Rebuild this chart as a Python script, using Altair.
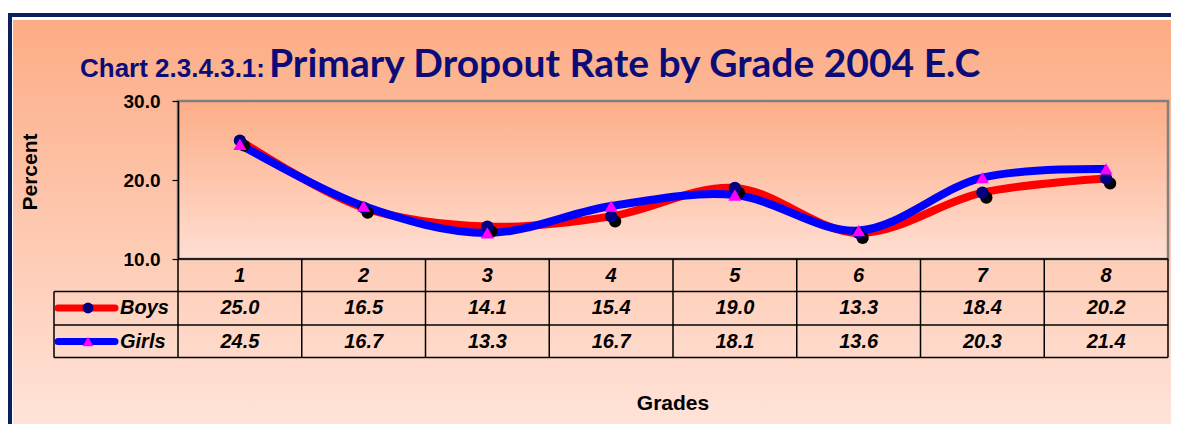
import altair as alt
import pandas as pd

# ---- data ----
grades = [1, 2, 3, 4, 5, 6, 7, 8]
boys = [25.0, 16.5, 14.1, 15.4, 19.0, 13.3, 18.4, 20.2]
girls = [24.5, 16.7, 13.3, 16.7, 18.1, 13.6, 20.3, 21.4]
series = ["Boys", "Girls"]
y_ticks = [10, 20, 30]
title_prefix = "Chart 2.3.4.3.1:"
title_main = "Primary Dropout Rate by Grade 2004 E.C"
y_title = "Percent"
x_title = "Grades"

W, H = 990, 158
ARIAL = "Liberation Sans"
NAVY_T = "#0C0C78"

boys_df = pd.DataFrame({"grade": grades, "value": boys})
girls_df = pd.DataFrame({"grade": grades, "value": girls})
head_df = pd.DataFrame({"grade": grades})
bound_df = pd.DataFrame({"b": [g - 0.5 for g in grades] + [grades[-1] + 0.5]})
one = alt.Data(values=[{"k": 1}])

xs = alt.Scale(domain=[0.5, 8.5], nice=False, zero=False)
ys = alt.Scale(domain=[10, 30], nice=False, zero=False)
X = alt.X("grade:Q", scale=xs, axis=None)
Y = alt.Y("value:Q", scale=ys, title=None,
          axis=alt.Axis(values=y_ticks, format=".1f", title=None, grid=False,
                        domainColor="black", domainWidth=1.5, tickColor="black",
                        tickSize=6, tickWidth=1.2, labelFont=ARIAL,
                        labelFontWeight="bold", labelFontSize=19, labelColor="black",
                        labelPadding=12, labelFlush=False, labelOverlap=False,
                        zindex=1))


def grad(c0, c1):
    return alt.LinearGradient(gradient="linear",
                              stops=[alt.GradientStop(offset=0, color=c0),
                                     alt.GradientStop(offset=1, color=c1)],
                              x1=0, x2=0, y1=0, y2=1)


def rect(x, x2, y, y2, **mk):
    return alt.Chart(one).mark_rect(**mk).encode(
        x=alt.value(x), x2=alt.value(x2), y=alt.value(y), y2=alt.value(y2))


def hrule(x, x2, y, **mk):
    return alt.Chart(one).mark_rule(**mk).encode(
        x=alt.value(x), x2=alt.value(x2), y=alt.value(y))


layers = []
# frame and background
layers.append(rect(-170, 1000, -88, 330, fill="#0B1F5E"))
layers.append(rect(-166, 1000, -84, 330, fill="white"))
layers.append(rect(-165, 1000, -81, 330, fill=grad("#FCAC85", "#FFE4DA")))
# plot area
layers.append(rect(0, W, 0, H, fill=grad("#FDAD86", "#FFDED2")))
layers.append(rect(0, W, 0, H, fill=None, stroke="#808080", strokeWidth=2.5,
                   fillOpacity=0))

# table lines
for yy in [190.5, 224, 256.5]:
    layers.append(hrule(-124, W, yy, color="black", strokeWidth=1.5))
layers.append(hrule(0, W, 158, color="black", strokeWidth=1.5))
layers.append(alt.Chart(one).mark_rule(color="black", strokeWidth=1.5).encode(
    x=alt.value(-124), y=alt.value(190.5), y2=alt.value(256.5)))
layers.append(alt.Chart(bound_df).mark_rule(color="black", strokeWidth=1.5).encode(
    x=alt.X("b:Q", scale=xs, axis=None), y=alt.value(158), y2=alt.value(256.5)))

# lines
layers.append(alt.Chart(boys_df).mark_line(interpolate="catmull-rom", strokeWidth=8,
                                            color="#FF0000").encode(x=X, y=Y))
layers.append(alt.Chart(girls_df).mark_line(interpolate="catmull-rom", strokeWidth=8,
                                             color="#0000FF").encode(x=X, y=Y))
# markers
layers.append(alt.Chart(boys_df).mark_point(shape="circle", filled=True, size=150,
                                             color="black", opacity=1, xOffset=4,
                                             yOffset=5).encode(x=X, y=Y))
layers.append(alt.Chart(boys_df).mark_point(shape="circle", filled=True, size=150,
                                             color="#000080", opacity=1).encode(x=X, y=Y))
layers.append(alt.Chart(girls_df).mark_point(shape="triangle-up", filled=True, size=170,
                                              color="#FF00FF", opacity=1).encode(x=X, y=Y))

# table texts
cell = dict(font=ARIAL, fontSize=20, fontStyle="italic", fontWeight="bold",
            color="black", baseline="middle", align="center")
layers.append(alt.Chart(head_df).mark_text(**cell).encode(
    x=X, y=alt.value(175), text="grade:N"))
layers.append(alt.Chart(boys_df).mark_text(**cell).encode(
    x=X, y=alt.value(207), text=alt.Text("value:Q", format=".1f")))
layers.append(alt.Chart(girls_df).mark_text(**cell).encode(
    x=X, y=alt.value(240.5), text=alt.Text("value:Q", format=".1f")))

# legend in table
for s, yy, col, shape, mcol in [(series[0], 207, "#FF0000", "circle", "#000080"),
                                (series[1], 240.5, "#0000FF", "triangle-up", "#FF00FF")]:
    layers.append(hrule(-120, -63, yy, color=col, strokeWidth=7, strokeCap="round"))
    layers.append(alt.Chart(one).mark_point(shape=shape, filled=True, size=120,
                                            color=mcol, opacity=1).encode(
        x=alt.value(-90), y=alt.value(yy)))
    layers.append(alt.Chart(alt.Data(values=[{"s": s}])).mark_text(
        font=ARIAL, fontSize=20, fontStyle="italic", fontWeight="bold", color="black",
        align="left", baseline="middle").encode(
        x=alt.value(-58), y=alt.value(yy), text="s:N"))

# titles
layers.append(alt.Chart(alt.Data(values=[{"t": title_prefix}])).mark_text(
    font=ARIAL, fontSize=26, fontWeight="bold", color=NAVY_T, align="left",
    baseline="alphabetic").encode(x=alt.value(-98), y=alt.value(-24), text="t:N"))
layers.append(alt.Chart(alt.Data(values=[{"t": title_main}])).mark_text(
    font="Lato", fontSize=39, fontWeight="bold", color=NAVY_T, align="left",
    baseline="alphabetic").encode(x=alt.value(91), y=alt.value(-24), text="t:N"))
layers.append(alt.Chart(alt.Data(values=[{"t": y_title}])).mark_text(
    font=ARIAL, fontSize=21, fontWeight="bold", color="black", align="center",
    baseline="middle", angle=270).encode(x=alt.value(-147), y=alt.value(71), text="t:N"))
layers.append(alt.Chart(alt.Data(values=[{"t": x_title}])).mark_text(
    font=ARIAL, fontSize=21, fontWeight="bold", color="black", align="center",
    baseline="middle").encode(x=alt.value(W / 2), y=alt.value(303), text="t:N"))

chart = alt.layer(*layers).properties(
    width=W, height=H,
    autosize=alt.AutoSizeParams(type="none"),
    padding={"left": 170, "top": 93, "right": 3, "bottom": 165},
    background="white",
).configure_view(stroke=None)

chart.save("out.html", embed_options={"renderer": "svg", "actions": False})
